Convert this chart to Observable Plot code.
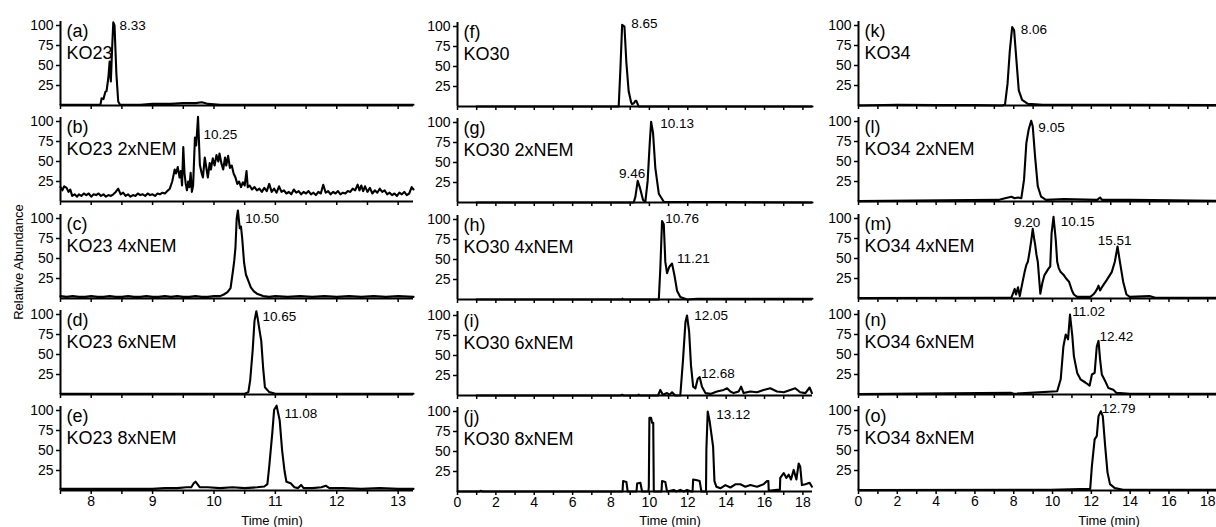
<!DOCTYPE html>
<html><head><meta charset="utf-8">
<script src="https://cdn.jsdelivr.net/npm/d3@7"></script>
<script src="https://cdn.jsdelivr.net/npm/@observablehq/plot@0.6"></script>
<style>
body{margin:0;background:#fff;}
#chart{position:relative;width:1216px;height:527px;overflow:hidden;font-family:"Liberation Sans",Arial,sans-serif;background:#fff;}
.panel{position:absolute;}
.lab{position:absolute;font-size:13px;color:#000;white-space:nowrap;transform:translate(-50%,-50%);}
</style></head><body><div id="chart"></div>
<script>
// ---------- data ----------
const panelTags = ["(a)","(b)","(c)","(d)","(e)","(f)","(g)","(h)","(i)","(j)","(k)","(l)","(m)","(n)","(o)"];
const panelNames = ["KO23","KO23 2xNEM","KO23 4xNEM","KO23 6xNEM","KO23 8xNEM",
                    "KO30","KO30 2xNEM","KO30 4xNEM","KO30 6xNEM","KO30 8xNEM",
                    "KO34","KO34 2xNEM","KO34 4xNEM","KO34 6xNEM","KO34 8xNEM"];
const yTicks = [25,50,75,100];
const xTicksCol1 = [7.5,8,8.5,9,9.5,10,10.5,11,11.5,12,12.5,13];
const xLabelsCol1 = [8,9,10,11,12,13];
const xTicksCol23 = [0,1,2,3,4,5,6,7,8,9,10,11,12,13,14,15,16,17,18];
const xLabelsCol23 = [0,2,4,6,8,10,12,14,16,18];
const xDomainCol1 = [7.5,13.25];
const xDomainCol2 = [0,18.5];
const xDomainCol3 = [0,18.45];

const traceA = [[7.5,1],[7.8,1],[8.1,1],[8.15,1],[8.17,9],[8.2,8],[8.23,17],[8.25,18],[8.28,35],[8.3,55],[8.32,30],[8.34,70],[8.36,104],[8.38,100],[8.41,40],[8.44,5],[8.47,1],[8.8,1],[9.0,2],[9.3,2],[9.5,3],[9.7,3],[9.8,4],[9.85,3],[9.9,2],[10.1,1],[10.5,1],[11,1],[11.5,1],[12,1],[12.5,1],[13.25,1]];
const traceB = [[7.5,18],[7.53,14],[7.56,19],[7.6,17],[7.63,12],[7.66,15],[7.69,7],[7.73,9],[7.77,6],[7.8,9],[7.84,7],[7.88,10],[7.92,8],[7.96,10],[8.0,6],[8.04,9],[8.08,8],[8.12,10],[8.16,7],[8.2,9],[8.24,6],[8.28,8],[8.32,7],[8.36,9],[8.4,12],[8.44,16],[8.48,9],[8.52,11],[8.56,7],[8.6,9],[8.64,6],[8.68,8],[8.72,7],[8.76,10],[8.8,8],[8.84,9],[8.88,7],[8.92,10],[8.96,8],[9.0,9],[9.04,7],[9.08,10],[9.12,9],[9.16,11],[9.2,10],[9.24,13],[9.28,16],[9.32,25],[9.36,40],[9.38,35],[9.41,43],[9.44,30],[9.46,38],[9.48,20],[9.5,68],[9.52,35],[9.54,22],[9.56,14],[9.58,25],[9.6,18],[9.62,36],[9.64,12],[9.66,20],[9.69,80],[9.71,70],[9.74,106],[9.77,46],[9.8,35],[9.82,30],[9.85,55],[9.87,45],[9.9,30],[9.93,48],[9.95,40],[9.98,54],[10.01,45],[10.04,58],[10.07,50],[10.09,60],[10.12,48],[10.15,40],[10.18,55],[10.2,45],[10.23,57],[10.26,42],[10.29,45],[10.32,35],[10.35,30],[10.38,22],[10.41,25],[10.44,18],[10.47,24],[10.5,20],[10.53,38],[10.55,18],[10.58,20],[10.62,15],[10.66,18],[10.7,14],[10.74,16],[10.78,12],[10.82,17],[10.86,13],[10.9,22],[10.94,12],[10.98,16],[11.02,11],[11.06,19],[11.1,12],[11.14,14],[11.18,10],[11.22,12],[11.26,9],[11.3,15],[11.34,11],[11.38,13],[11.42,9],[11.46,12],[11.5,10],[11.54,13],[11.58,9],[11.62,11],[11.66,8],[11.7,12],[11.74,10],[11.78,21],[11.82,11],[11.86,13],[11.9,9],[11.94,12],[11.98,10],[12.02,13],[12.06,9],[12.1,11],[12.14,10],[12.18,13],[12.22,12],[12.26,16],[12.3,14],[12.34,21],[12.37,14],[12.4,20],[12.43,13],[12.46,19],[12.5,12],[12.54,17],[12.58,10],[12.62,14],[12.66,11],[12.7,16],[12.74,12],[12.78,14],[12.82,9],[12.86,11],[12.9,8],[12.94,10],[12.98,7],[13.02,11],[13.06,9],[13.1,12],[13.14,8],[13.18,10],[13.22,18],[13.25,15]];
const traceC = [[7.5,3],[7.6,2],[7.7,3],[7.8,2],[7.9,2],[8.0,3],[8.1,2],[8.2,2],[8.3,3],[8.4,2],[8.5,2],[8.6,3],[8.7,2],[8.8,2],[8.9,3],[9.0,2],[9.1,2],[9.2,3],[9.3,2],[9.4,3],[9.5,2],[9.6,2],[9.7,3],[9.8,2],[9.9,2],[10.0,3],[10.1,3],[10.16,5],[10.22,8],[10.27,13],[10.31,35],[10.33,47],[10.35,64],[10.37,100],[10.39,110],[10.41,95],[10.42,88],[10.44,90],[10.46,75],[10.49,45],[10.52,30],[10.56,22],[10.6,14],[10.65,9],[10.7,6],[10.8,3],[10.9,2],[11.0,3],[11.2,2],[11.4,3],[11.6,2],[11.8,3],[12,2],[12.2,3],[12.4,2],[12.6,3],[12.8,2],[13.0,3],[13.25,2]];
const traceD = [[7.5,1],[8,1],[9,1],[10,1],[10.5,1],[10.56,3],[10.59,18],[10.63,55],[10.66,92],[10.69,104],[10.71,96],[10.74,81],[10.77,67],[10.8,34],[10.83,9],[10.9,3],[11.0,1],[12,1],[13.25,1]];
const traceE = [[7.5,2],[7.8,2],[8.1,2],[8.4,2],[8.7,2],[9.0,2],[9.2,3],[9.4,3],[9.55,4],[9.63,4],[9.67,9],[9.7,11],[9.73,8],[9.77,4],[9.9,4],[10.1,3],[10.3,4],[10.5,3],[10.7,4],[10.82,5],[10.87,8],[10.9,30],[10.95,72],[10.98,101],[11.02,106],[11.07,88],[11.11,50],[11.15,24],[11.18,11],[11.25,9],[11.31,4],[11.37,3],[11.42,7],[11.46,3],[11.6,3],[11.75,4],[11.82,6],[11.88,3],[12.1,3],[12.4,2],[12.7,3],[13.0,2],[13.25,2]];
const traceF = [[1,0],[8.4,0],[8.49,47],[8.58,102],[8.7,100],[8.8,55],[8.92,19],[9.05,5],[9.1,3],[9.19,4],[9.27,7],[9.32,7],[9.44,0],[18.5,0]];
const traceG = [[1,0],[9.18,0],[9.27,7],[9.39,27],[9.5,19],[9.67,3],[9.79,1],[9.91,27],[10.02,75],[10.09,101],[10.19,87],[10.31,43],[10.49,11],[10.75,1],[18.5,0]];
const traceH = [[1,0],[8.58,0],[8.6,1],[8.65,0],[10.49,0],[10.57,39],[10.66,98],[10.75,94],[10.83,47],[10.92,33],[11.04,41],[11.18,45],[11.3,31],[11.44,11],[11.61,3],[11.96,0],[12.5,1],[13,1],[14,1],[15,1],[16,1],[17,1],[18.5,1]];
const traceI = [[1,0],[8.5,0],[8.58,1],[8.65,0],[9.4,0],[9.44,1],[9.5,0],[10.45,0],[10.57,7],[10.7,1],[10.92,3],[11.05,1],[11.18,4],[11.35,0],[11.61,0],[11.75,44],[11.88,92],[11.96,100],[12.07,80],[12.17,37],[12.28,11],[12.4,9],[12.52,21],[12.62,23],[12.74,11],[12.92,3],[13.18,2],[13.52,5],[13.87,7],[14.05,9],[14.22,5],[14.39,3],[14.65,5],[14.78,11],[14.91,3],[15.26,5],[15.61,4],[15.95,7],[16.3,9],[16.65,5],[17.0,4],[17.34,7],[17.6,9],[17.86,4],[18.13,3],[18.35,10],[18.47,3]];
const traceJ = [[0,0],[1.15,0],[1.2,1],[1.3,0],[8.6,0],[8.63,13],[8.8,12],[8.87,0],[9.33,0],[9.36,10],[9.53,11],[9.62,0],[9.95,0],[9.97,6],[10.0,92],[10.09,92],[10.14,86],[10.2,86],[10.23,0],[10.63,0],[10.66,13],[10.83,12],[10.92,0],[11.27,2],[11.4,0],[11.61,2],[11.8,0],[11.96,2],[12.2,0],[12.25,0],[12.28,15],[12.48,14],[12.62,13],[12.71,0],[12.95,0],[12.97,53],[13.04,100],[13.14,88],[13.23,72],[13.32,56],[13.39,13],[13.49,6],[13.7,4],[13.96,8],[14.22,5],[14.48,9],[14.74,9],[15.0,6],[15.26,8],[15.61,6],[15.95,9],[16.13,13],[16.2,13],[16.22,1],[16.65,2],[16.8,2],[16.82,17],[17.0,23],[17.14,17],[17.26,21],[17.38,15],[17.52,27],[17.66,15],[17.78,35],[17.86,31],[17.95,8],[18.13,9],[18.35,11],[18.47,6]];
const traceK = [[0,0],[2,1],[4,0.5],[6,0.5],[7.4,0],[7.55,1],[7.68,27],[7.8,69],[7.92,98],[8.02,94],[8.14,56],[8.26,19],[8.43,7],[8.73,2],[9.5,1],[12,1],[14,1],[18.45,0.5]];
const traceL = [[0,0.5],[7.21,2],[7.55,4],[7.88,6],[8.05,4],[8.22,5],[8.39,4],[8.53,27],[8.65,73],[8.77,90],[8.9,101],[8.98,94],[9.1,56],[9.24,19],[9.41,6],[9.66,2],[10.59,3],[12.3,2],[12.45,5],[12.55,2],[14,2],[18.45,1]];
const traceM = [[0,0.5],[7.0,1],[7.88,1],[8.05,12],[8.12,5],[8.22,14],[8.31,3],[8.45,20],[8.56,33],[8.65,42],[8.73,46],[8.82,59],[8.9,72],[8.98,87],[9.05,75],[9.1,68],[9.17,55],[9.24,46],[9.37,6],[9.48,20],[9.58,29],[9.68,33],[9.78,37],[9.88,40],[9.95,81],[10.05,102],[10.12,85],[10.17,72],[10.24,46],[10.32,38],[10.42,33],[10.59,29],[10.7,25],[10.85,21],[11.0,10],[11.1,5],[11.27,2],[11.94,2],[12.1,5],[12.2,8],[12.3,12],[12.37,16],[12.45,10],[12.54,14],[12.65,18],[12.79,23],[12.92,28],[13.05,33],[13.21,46],[13.35,65],[13.47,46],[13.64,21],[13.81,5],[13.98,2],[14.99,3],[15.3,1],[18.45,1]];
const traceN = [[0,0.5],[7.88,2],[8,1],[10.24,4],[10.42,19],[10.56,60],[10.68,75],[10.8,69],[10.9,100],[11.02,73],[11.1,48],[11.27,27],[11.44,19],[11.69,15],[11.91,11],[12.03,25],[12.17,27],[12.28,60],[12.37,67],[12.45,44],[12.54,25],[12.71,17],[12.88,8],[13.13,6],[13.3,2],[13.98,1],[18.45,1]];
const traceO = [[0,0.5],[9.92,1],[11.94,2],[12.03,31],[12.17,64],[12.28,68],[12.37,93],[12.49,99],[12.59,93],[12.71,56],[12.83,23],[12.96,8],[13.21,3],[13.64,1],[18.45,1]];

const peakPanel  = ["a","b","c","d","e","f","g","g","h","h","i","i","j","k","l","m","m","m","n","n","o"];
const peakText   = ["8.33","10.25","10.50","10.65","11.08","8.65","10.13","9.46","10.76","11.21","12.05","12.68","13.12","8.06","9.05","9.20","10.15","15.51","11.02","12.42","12.79"];
const peakTime   = [8.46,9.83,10.51,10.79,11.15,9.06,10.57,9.79,10.83,11.44,12.34,12.69,13.49,8.36,9.27,9.37,10.42,13.2,11.02,12.42,12.54];
const peakValue  = [100,84,100,97,96,103,99,36,101,51,100,27,96,95,92,95,96,72,104,72,102];
const peakAnchor = ["start","start","start","start","start","start","start","end","start","start","start","start","start","start","start","end","start","middle","start","start","start"];

// ---------- layout ----------
const ids = "abcdefghijklmno".split("");
const traces = [traceA,traceB,traceC,traceD,traceE,traceF,traceG,traceH,traceI,traceJ,traceK,traceL,traceM,traceN,traceO];
const layout = [
  {left:0,   width:416, ml:60, mr:3, domain:xDomainCol1, ticks:xTicksCol1,  labels:xLabelsCol1,  dy:0, timeX:272},
  {left:400, width:415, ml:57, mr:3, domain:xDomainCol2, ticks:xTicksCol23, labels:xLabelsCol23, dy:1, timeX:670},
  {left:800, width:416, ml:58, mr:0, domain:xDomainCol3, ticks:xTicksCol23, labels:xLabelsCol23, dy:0, timeX:1109}
];
const rowBase = [105, 201, 298, 394, 490];
const yMax = 105, pxPerUnit = 0.8, plotH = yMax*pxPerUnit, mt = 4;
const font = '"Liberation Sans", Arial, sans-serif';
const chart = document.getElementById("chart");

const peaks = peakText.map((text,i)=>({panel:peakPanel[i], text, t:peakTime[i], a:peakValue[i], anchor:peakAnchor[i]}));

for (let c = 0; c < 3; c++) {
  const col = layout[c];
  for (let r = 0; r < 5; r++) {
    const idx = c*5 + r;
    const bottom = r === 4;
    const mb = bottom ? 30 : 8;
    const data = traces[idx].map(([t,a]) => ({t,a}));
    const pk = peaks.filter(p => p.panel === ids[idx]);
    const textMarks = ["start","end","middle"].map(anc =>
      Plot.text(pk.filter(p => p.anchor === anc), {x:"t", y:"a", text:"text", textAnchor:anc, fontSize:13.5, fill:"#000"}));
    const svg = Plot.plot({
      width: col.width, height: mt + plotH + mb,
      marginLeft: col.ml, marginRight: col.mr, marginTop: mt, marginBottom: mb,
      style: {background:"transparent", overflow:"visible", fontFamily:font, color:"#000"},
      x: {domain: col.domain},
      y: {domain: [0, yMax]},
      marks: [
        Plot.axisX({ticks: col.ticks, tickSize: 4, tickPadding: 2, strokeWidth: 1.5, fontSize: 14, label: null,
          tickFormat: bottom ? (d => col.labels.includes(d) ? String(d) : "") : (() => "")}),
        Plot.axisY({ticks: yTicks, tickSize: 4, tickPadding: 3, strokeWidth: 1.5, fontSize: 14, label: null}),
        Plot.ruleY([0], {strokeWidth: 2, stroke:"#000"}),
        Plot.ruleX([col.domain[0]], {strokeWidth: 2, stroke:"#000"}),
        Plot.line(data, {x:"t", y:"a", stroke:"#000", strokeWidth: 2.1}),
        Plot.text([panelTags[idx] + "\n" + panelNames[idx]], {frameAnchor:"top-left", dx: 6, dy: 1, lineAnchor:"top", textAnchor:"start", fontSize: 18, lineHeight: 1.17, fill:"#000"}),
        ...textMarks
      ]
    });
    const div = document.createElement("div");
    div.className = "panel";
    div.style.left = col.left + "px";
    div.style.top = (rowBase[r] + col.dy - plotH - mt) + "px";
    div.style.width = col.width + "px";
    div.appendChild(svg);
    chart.appendChild(div);
  }
  const tl = document.createElement("div");
  tl.className = "lab";
  tl.textContent = "Time (min)";
  tl.style.left = col.timeX + "px";
  tl.style.top = "520px";
  chart.appendChild(tl);
}
const yl = document.createElement("div");
yl.className = "lab";
yl.textContent = "Relative Abundance";
yl.style.left = "18px";
yl.style.top = "262px";
yl.style.fontSize = "13px";
yl.style.transform = "translate(-50%,-50%) rotate(-90deg)";
chart.appendChild(yl);
</script></body></html>
